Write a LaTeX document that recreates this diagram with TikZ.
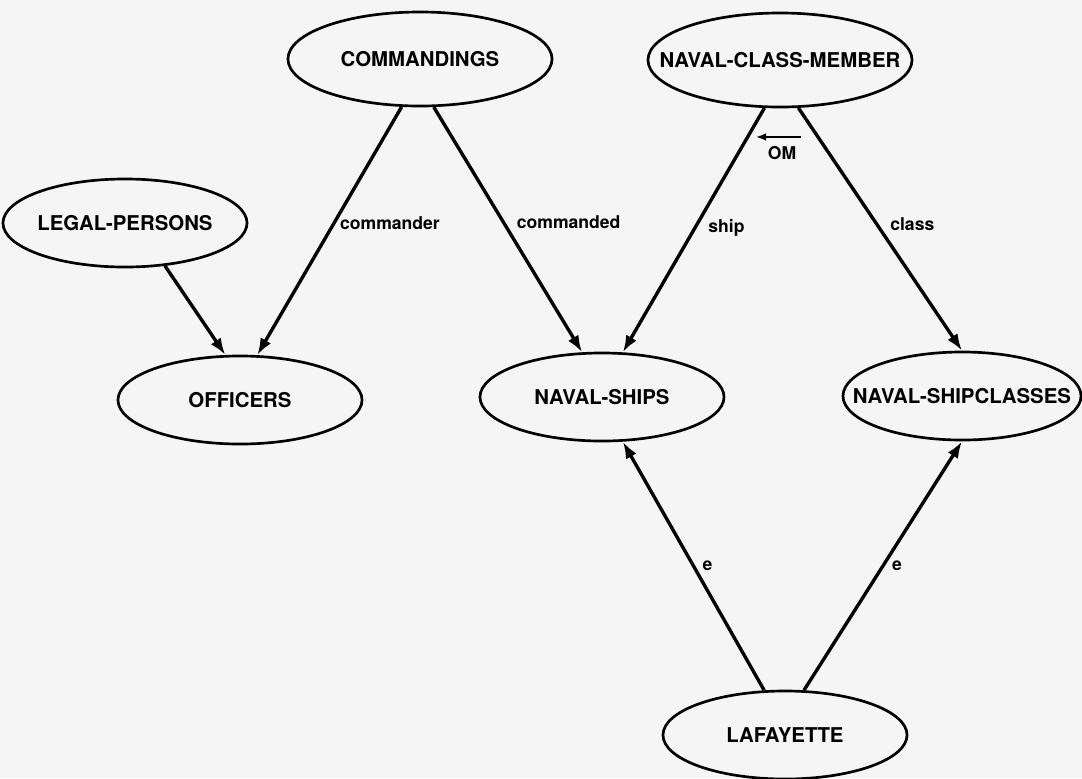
\documentclass[tikz,border=0pt]{standalone}
\usepackage{fontspec}
\setsansfont{TeX Gyre Heros}
\usetikzlibrary{arrows.meta,shapes.geometric}
\newcommand{\ctext}[1]{\makebox[0pt]{#1}}
\tikzset{
  concept/.style={draw, ellipse, line width=1.9pt, minimum width=6.1cm, minimum height=2.2cm, inner sep=0pt, font=\sffamily\bfseries\fontsize{14.5}{16}\selectfont},
  bigconcept/.style={concept, minimum width=6.6cm, minimum height=2.35cm},
  link/.style={line width=2.4pt, -{Latex[length=4.2mm,width=3mm]}},
  role/.style={font=\sffamily\bfseries\fontsize{12.5}{14}\selectfont}
}
\begin{document}
\begin{tikzpicture}[x=0.025cm, y=-0.025cm]
    \fill[black!4] (0,0) rectangle (1082,778);
    \useasboundingbox (0,0) rectangle (1082,778);
    % concepts
    \node[bigconcept] (cmd) at (420,59) {\ctext{COMMANDINGS}};
    \node[bigconcept] (ncm) at (780,60) {\ctext{NAVAL-CLASS-MEMBER}};
    \node[concept] (legal) at (125,223) {\ctext{LEGAL-PERSONS}};
    \node[concept] (off) at (240,400) {\ctext{OFFICERS}};
    \node[concept] (ships) at (602,397) {\ctext{NAVAL-SHIPS}};
    \node[concept, minimum width=5.95cm] (classes) at (962,396) {\ctext{NAVAL-SHIPCLASSES}};
    \node[concept] (laf) at (785,735) {\ctext{LAFAYETTE}};
    % roles
    \draw[link] (legal.-47.7) -- (off.108.8);
    \draw[link] (cmd.249.4) -- node[pos=0.47, right, role] {commander} (off.69);
    \draw[link] (cmd.-74.8) -- node[pos=0.47, right=5pt, role] {commanded} (ships.114.4);
    \draw[link] (ncm.-108.4) -- node[pos=0.49, right=5pt, role] {ship} (ships.65.9);
    \draw[link] (ncm.-69.3) -- node[pos=0.48, right=5pt, role] {class} (classes.90);
    \node[role, inner sep=0pt] (om) at (782,153) {OM};
    \draw[line width=1.5pt, -{Latex[length=2.6mm,width=1.9mm]}] ([xshift=3pt,yshift=6.5pt]om.north east) -- ([xshift=-8.5pt,yshift=6.5pt]om.north west);
    % instances
    \draw[link] (laf.115) -- node[pos=0.5, right=2pt, role] {e} (ships.-65.5);
    \draw[link] (laf.67.3) -- node[pos=0.5, right=2pt, role] {e} (classes.-90);
\end{tikzpicture}
\end{document}
